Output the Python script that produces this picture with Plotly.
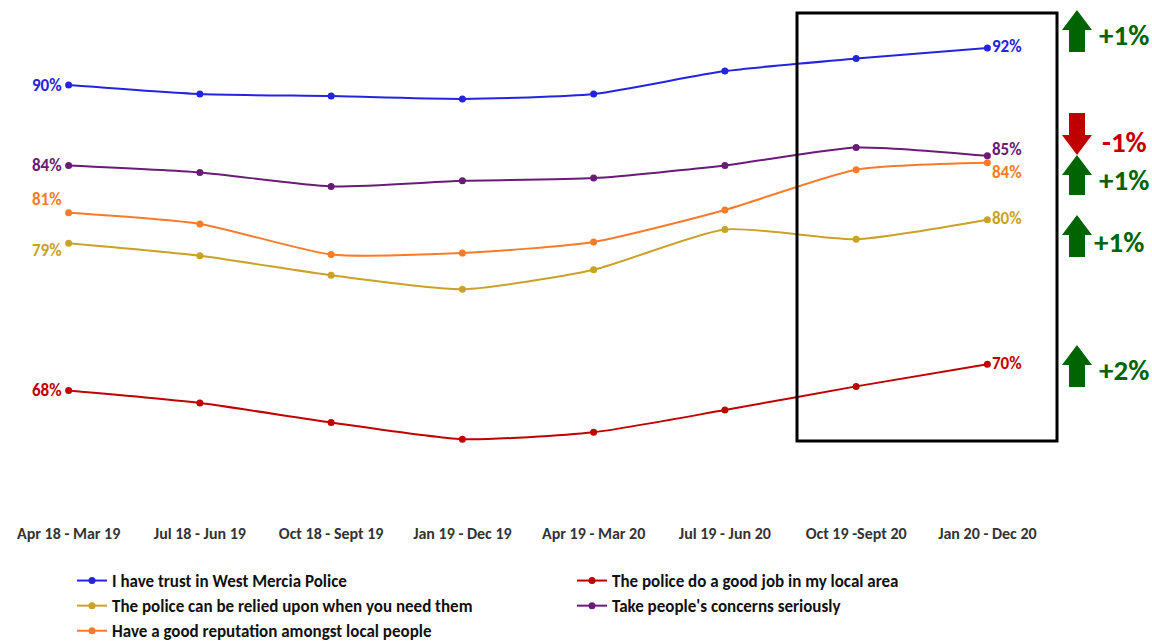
import plotly.graph_objects as go

periods = ["Apr 18 - Mar 19", "Jul 18 - Jun 19", "Oct 18 - Sept 19", "Jan 19 - Dec 19",
           "Apr 19 - Mar 20", "Jul 19 - Jun 20", "Oct 19 -Sept 20", "Jan 20 - Dec 20"]

trust = [90.0, 89.35, 89.2, 89.0, 89.35, 91.0, 91.9, 92.66]
good_job = [68.0, 67.1, 65.7, 64.5, 65.0, 66.6, 68.3, 69.9]
relied = [78.6, 77.7, 76.3, 75.3, 76.7, 79.6, 78.9, 80.3]
concerns = [84.2, 83.7, 82.7, 83.1, 83.3, 84.2, 85.5, 84.9]
reputation = [80.8, 80.0, 77.8, 77.9, 78.7, 81.0, 83.9, 84.4]

names = ["I have trust in West Mercia Police",
         "The police do a good job in my local area",
         "The police can be relied upon when you need them",
         "Take people's concerns seriously",
         "Have a good reputation amongst local people"]
colors = ["#2424E0", "#C00000", "#C9A227", "#6A1B78", "#F97B2A"]
series = [trust, good_job, relied, concerns, reputation]

start_labels = ["90%", "68%", "79%", "84%", "81%"]
end_labels = ["92%", "70%", "80%", "85%", "84%"]
start_shift = [0, 0, -7, 0, 13]
end_shift = [2, 1, 1, 6, -10]

changes = ["+1%", "+2%", "+1%", "-1%", "+1%"]
change_dir = ["up", "up", "up", "down", "up"]
# pixel vertical extents of arrows (top, bottom) and text centres
arrow_px = [(10, 52), (345, 387), (215, 257), (113, 155), (155, 195)]
text_cy = [35, 370, 242, 142, 180]
text_x = [1097, 1097, 1092, 1100, 1097]

L, R, T, B = 3, 99, 10, 132
W, H = 1152, 642
PW = W - L - R
PH = H - T - B


def px(xp):
    return (xp - L) / PW


def py(yp):
    return (H - B - yp) / PH


FONT = "Carlito, Lato, Liberation Sans, sans-serif"

fig = go.Figure()
for name, col, vals in zip(names, colors, series):
    fig.add_trace(go.Scatter(
        x=periods, y=vals, name=name, mode="lines+markers",
        line=dict(color=col, width=2, shape="spline", smoothing=0.6),
        marker=dict(color=col, size=7),
    ))

annotations = []
for i, vals in enumerate(series):
    annotations.append(dict(x=periods[0], y=vals[0], xref="x", yref="y",
                            text="<b>%s</b>" % start_labels[i], showarrow=False,
                            xanchor="right", xshift=-5, yshift=start_shift[i],
                            font=dict(family=FONT, size=17, color=colors[i])))
    annotations.append(dict(x=periods[-1], y=vals[-1], xref="x", yref="y",
                            text="<b>%s</b>" % end_labels[i], showarrow=False,
                            xanchor="left", xshift=4, yshift=end_shift[i], borderpad=0,
                            font=dict(family=FONT, size=17, color=colors[i])))

shapes = []
# highlight box
shapes.append(dict(type="rect", xref="paper", yref="paper",
                   x0=px(797), x1=px(1057), y0=py(441), y1=py(13),
                   line=dict(color="black", width=3), fillcolor="rgba(0,0,0,0)"))

cx = 1077
for i in range(len(changes)):
    top, bot = arrow_px[i]
    up = change_dir[i] == "up"
    col = "#006400" if up else "#C00000"
    hh = 20
    if up:
        pts = [(cx, top), (cx + 15, top + hh), (cx + 8, top + hh), (cx + 8, bot),
               (cx - 8, bot), (cx - 8, top + hh), (cx - 15, top + hh)]
    else:
        pts = [(cx, bot), (cx + 15, bot - hh), (cx + 8, bot - hh), (cx + 8, top),
               (cx - 8, top), (cx - 8, bot - hh), (cx - 15, bot - hh)]
    path = "M " + " L ".join("%f,%f" % (px(a), py(b)) for a, b in pts) + " Z"
    shapes.append(dict(type="path", xref="paper", yref="paper", path=path,
                       fillcolor=col, line=dict(width=0)))
    annotations.append(dict(x=px(text_x[i]), y=py(text_cy[i]), xref="paper", yref="paper",
                            text="<b>%s</b>" % changes[i], showarrow=False,
                            xanchor="left", yanchor="middle",
                            font=dict(family=FONT, size=29, color=col)))

fig.update_layout(
    width=W, height=H,
    margin=dict(l=L, r=R, t=T, b=B, autoexpand=False),
    paper_bgcolor="white", plot_bgcolor="white",
    xaxis=dict(type="category", range=[-0.5, 7.5], showgrid=False, zeroline=False,
               showline=False, ticks="", ticklabelstandoff=12,
               tickfont=dict(family=FONT, size=16, color="#333333", weight="bold")),
    yaxis=dict(range=[59.4, 95.4], visible=False),
    legend=dict(orientation="h", x=px(72), xanchor="left", y=py(563), yanchor="top",
                entrywidth=455, entrywidthmode="pixels", itemwidth=30,
                font=dict(family=FONT, size=17, color="#111111", weight="bold"),
                bgcolor="rgba(0,0,0,0)"),
    showlegend=True,
    annotations=annotations,
    shapes=shapes,
)

fig.write_html("out.html")
